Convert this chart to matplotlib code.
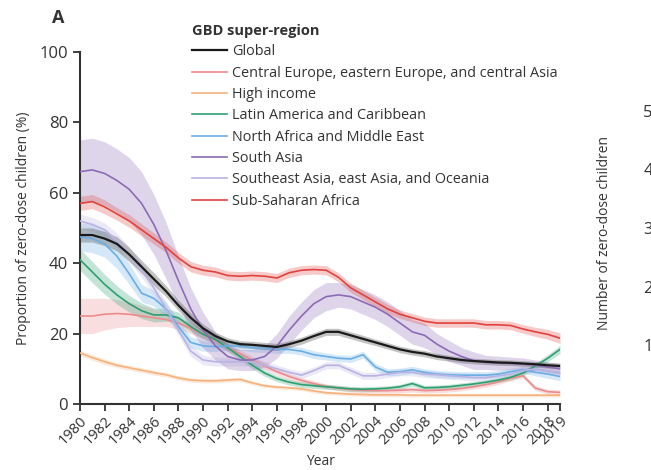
import matplotlib
matplotlib.use("Agg")
import matplotlib.pyplot as plt
import numpy as np

years = list(range(1980, 2020))

names = [
    "Global",
    "Central Europe, eastern Europe, and central Asia",
    "High income",
    "Latin America and Caribbean",
    "North Africa and Middle East",
    "South Asia",
    "Southeast Asia, east Asia, and Oceania",
    "Sub-Saharan Africa",
]

global_vals = [48, 48, 47, 45.5, 42.5, 39, 35.5, 32, 28, 24.5, 21.5, 19.3, 17.8, 17, 16.8, 16.5, 16.2, 17, 18, 19.3, 20.5, 20.5, 19.5, 18.5, 17.5, 16.5, 15.5, 14.8, 14.3, 13.5, 13, 12.5, 12.2, 12, 11.8, 11.7, 11.5, 11.3, 11, 10.8]
ceeca_vals = [25, 25, 25.5, 25.7, 25.5, 25, 24.5, 24, 23, 21.5, 19.8, 18, 16, 14.3, 12.5, 10.8, 9.2, 7.8, 6.7, 5.8, 5, 4.5, 4.1, 3.9, 3.8, 3.8, 3.9, 4.1, 3.8, 3.9, 4.1, 4.4, 4.9, 5.5, 6.3, 7.3, 8, 4.5, 3.5, 3.3]
high_vals = [14.5, 13.2, 12, 11, 10.3, 9.6, 8.9, 8.3, 7.4, 6.8, 6.6, 6.6, 6.8, 7, 6, 5.2, 4.8, 4.6, 4.3, 3.7, 3.2, 3, 2.8, 2.7, 2.6, 2.6, 2.6, 2.5, 2.5, 2.5, 2.5, 2.5, 2.5, 2.5, 2.5, 2.5, 2.5, 2.5, 2.5, 2.5]
latam_vals = [41, 37.5, 34, 31, 28.5, 26.5, 25.3, 25.3, 24.5, 22, 19.8, 18.3, 16, 13.5, 11, 8.8, 7.2, 6.2, 5.5, 5.2, 4.9, 4.6, 4.3, 4.2, 4.3, 4.5, 4.9, 5.8, 4.6, 4.7, 4.9, 5.3, 5.7, 6.2, 6.8, 7.6, 8.8, 10.8, 13, 15.5]
nafme_vals = [47.5, 47, 45.5, 42, 37, 31.5, 30, 27, 22, 17.5, 16.5, 16.3, 16.5, 16.5, 16, 15.8, 15.5, 15.5, 15, 14, 13.5, 13, 12.8, 14, 10.5, 9, 9.2, 9.7, 9, 8.5, 8.3, 8.2, 8.2, 8.2, 8.5, 9.2, 9.7, 9, 8.5, 7.8]
sasia_vals = [66, 66.5, 65.5, 63.5, 61, 57, 51, 43.5, 35, 27, 21, 16.5, 13.5, 12.5, 12.5, 13.5, 16.5, 21, 25, 28.5, 30.5, 31, 30.5, 29, 27.5, 25.5, 23, 20.5, 19.5, 17, 15, 13.5, 12.3, 11.8, 11.6, 11.5, 11.3, 11, 10.5, 10]
seasia_vals = [52, 51, 49.5, 46.5, 42.5, 38, 33, 27, 21, 15, 12.5, 12, 12, 12, 12, 11, 10, 9, 8.2, 9.5, 11, 11, 9.5, 8, 8, 8.5, 9, 9, 8.5, 8.3, 8, 7.8, 7.5, 7.5, 8, 8.5, 9.5, 10, 9.5, 9]
ssa_vals = [57, 57.5, 56, 54, 52, 49.5, 47, 44.5, 41.5, 39, 38, 37.5, 36.5, 36.3, 36.5, 36.3, 35.8, 37.3, 38, 38.2, 38, 36, 33, 31, 29, 27, 25.5, 24.5, 23.5, 23, 23, 23, 23, 22.5, 22.5, 22.3, 21.3, 20.5, 19.8, 18.7]

global_hw = [2, 2, 2, 2, 2, 1.8, 1.8, 1.6, 1.5, 1.4, 1.2, 1.1, 1, 1, 1, 1, 1, 1, 1, 1, 1, 1, 1, 1, 0.9, 0.9, 0.9, 0.9, 0.9, 0.9, 0.8, 0.8, 0.8, 0.8, 0.8, 0.8, 0.8, 0.8, 0.8, 0.8]
ceeca_hw = [5, 5, 4.5, 4, 3.5, 3, 2.5, 2, 1.7, 1.5, 1.3, 1.2, 1.1, 1, 1, 1, 0.9, 0.9, 0.8, 0.8, 0.7, 0.7, 0.7, 0.7, 0.7, 0.7, 0.7, 0.7, 0.7, 0.7, 0.7, 0.7, 0.7, 0.7, 0.7, 0.7, 0.7, 0.7, 0.7, 0.7]
high_hw = [0.8, 0.8, 0.8, 0.7, 0.7, 0.7, 0.7, 0.6, 0.6, 0.6, 0.6, 0.6, 0.6, 0.6, 0.5, 0.5, 0.5, 0.5, 0.5, 0.5, 0.5, 0.5, 0.5, 0.5, 0.5, 0.5, 0.5, 0.5, 0.5, 0.5, 0.5, 0.5, 0.5, 0.5, 0.5, 0.5, 0.5, 0.5, 0.5, 0.5]
latam_hw = [3, 3, 2.8, 2.6, 2.4, 2.2, 2, 1.8, 1.6, 1.4, 1.2, 1.1, 1, 1, 1, 0.9, 0.9, 0.8, 0.8, 0.8, 0.7, 0.7, 0.7, 0.7, 0.7, 0.7, 0.7, 0.7, 0.7, 0.7, 0.7, 0.7, 0.7, 0.7, 0.7, 0.8, 0.8, 0.9, 1, 1.2]
nafme_hw = [4, 4, 3.8, 3.5, 3, 2.5, 2.2, 2, 1.8, 1.6, 1.5, 1.4, 1.3, 1.2, 1.2, 1.2, 1.1, 1.1, 1.1, 1.1, 1, 1, 1, 1, 1, 1, 1, 1, 1, 1, 1, 1, 1, 1, 1, 1, 1, 1, 1.2, 1.2]
sasia_hw = [9, 9, 9, 9, 9, 9, 8.5, 8, 7, 6, 5, 4, 3.5, 3, 3, 3, 3.5, 4, 4, 4, 4, 3.5, 3.5, 3.5, 3.5, 3.5, 3.5, 3.5, 3.5, 3, 3, 2.5, 2.5, 2, 2, 1.8, 1.8, 1.5, 1.5, 1.5]
seasia_hw = [2, 2, 2, 2, 2, 2, 1.8, 1.8, 1.6, 1.5, 1.4, 1.3, 1.2, 1.2, 1.2, 1.1, 1.1, 1, 1, 1, 1, 1, 1, 1, 1, 1, 1, 1, 1, 1, 1, 1, 1, 1, 1, 1, 1, 1, 1, 1]
ssa_hw = [2, 2, 2, 1.8, 1.8, 1.7, 1.6, 1.5, 1.5, 1.5, 1.4, 1.4, 1.3, 1.3, 1.3, 1.3, 1.3, 1.3, 1.3, 1.3, 1.3, 1.3, 1.3, 1.3, 1.3, 1.3, 1.2, 1.2, 1.2, 1.2, 1.2, 1.2, 1.2, 1.2, 1.2, 1.2, 1.2, 1.3, 1.4, 1.5]

colors = ["#1a1a1a", "#ec8a8c", "#f6b27c", "#2e9f70", "#6aaee4", "#8c6bb5", "#b8b3e2", "#e2423d"]

series = [global_vals, ceeca_vals, high_vals, latam_vals, nafme_vals, sasia_vals, seasia_vals, ssa_vals]
halfw = [global_hw, ceeca_hw, high_hw, latam_hw, nafme_hw, sasia_hw, seasia_hw, ssa_hw]

x_ticks = list(range(1980, 2019, 2)) + [2019]
y_ticks = [0, 20, 40, 60, 80, 100]
right_ticks = [10, 20, 30, 40, 50]

plt.rcParams["font.family"] = ["Open Sans", "DejaVu Sans"]

W, H = 651, 470
fig = plt.figure(figsize=(W / 100, H / 100), dpi=100)
ax = fig.add_axes([80 / W, (H - 404) / H, 480 / W, 352 / H])

yrs = np.array(years)
draw_order = [1, 2, 3, 4, 6, 5, 7, 0]
for i in draw_order:
    v = np.array(series[i])
    hw = np.array(halfw[i])
    band_alpha = 0.35 if i == 0 else 0.28
    bcol = "#555555" if i == 0 else colors[i]
    ax.fill_between(yrs, v - hw, v + hw, color=bcol, alpha=band_alpha, lw=0, zorder=1)
handles = {}
for i in draw_order:
    lw = 1.6 if i == 0 else 1.2
    (ln,) = ax.plot(yrs, series[i], color=colors[i], lw=lw, zorder=3)
    handles[i] = ln

ax.set_xlim(1980, 2019)
ax.set_ylim(0, 100)
ax.set_xticks(x_ticks)
ax.set_xticklabels([str(t) for t in x_ticks], rotation=45, ha="right", rotation_mode="anchor", fontsize=10.5, color="#333333")
ax.set_yticks(y_ticks)
ax.set_yticklabels([str(t) for t in y_ticks], fontsize=12, color="#333333")
for s in ["top", "right"]:
    ax.spines[s].set_visible(False)
for s in ["left", "bottom"]:
    ax.spines[s].set_linewidth(1.5)
    ax.spines[s].set_color("#333333")
ax.tick_params(axis="both", direction="out", length=5, width=1.3, color="#333333")
ax.tick_params(axis="x", pad=2)
ax.set_ylabel("Proportion of zero-dose children (%)", fontsize=10, color="#333333", labelpad=6)
ax.set_xlabel("Year", fontsize=10, color="#333333", labelpad=4)

leg = ax.legend([handles[i] for i in range(8)], names, title="GBD super-region",
                loc="upper left", bbox_to_anchor=(192 / W, 1 - 24 / H), bbox_transform=fig.transFigure,
                frameon=False, fontsize=10.4, handlelength=2.4, handletextpad=0.4, labelspacing=0.44,
                alignment="left", borderaxespad=0, borderpad=0)
leg.get_title().set_fontweight("bold")
leg.get_title().set_fontsize(10.5)
leg.get_title().set_color("#333333")
for t in leg.get_texts():
    t.set_color("#333333")

fig.text(52 / W, 1 - 18 / H, "A", fontsize=13, fontweight="bold", color="#333333", ha="left", va="center")

# partial right panel
ax2 = fig.add_axes([668 / W, (H - 404) / H, 200 / W, 352 / H])
ax2.set_ylim(0, 60)
ax2.set_yticks(right_ticks)
ax2.set_yticklabels([str(t) for t in right_ticks], fontsize=12, color="#333333")
ax2.set_xticks([])
for s in ax2.spines.values():
    s.set_visible(False)
ax2.tick_params(axis="y", length=0, pad=4)
ax2.patch.set_alpha(0)
fig.text(605 / W, 1 - 233 / H, "Number of zero-dose children", rotation=90, fontsize=10,
         color="#333333", ha="center", va="center")

fig.savefig("out.png", dpi=100)
